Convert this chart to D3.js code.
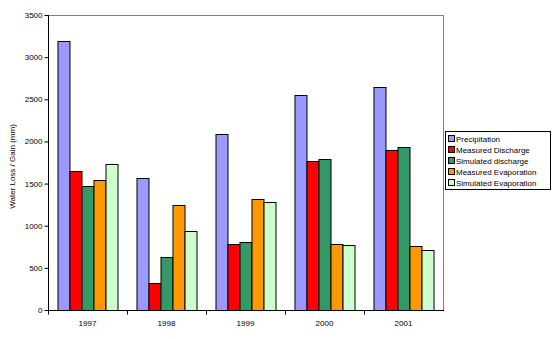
<!DOCTYPE html>
<html>
<head>
<meta charset="utf-8">
<script src="https://cdn.jsdelivr.net/npm/d3@7"></script>
<style>
html,body{margin:0;padding:0;background:#fff;}
svg{display:block;}
text{font-family:Arial,"Liberation Sans",sans-serif;fill:#000;}
</style>
</head>
<body>
<svg id="chart" width="553" height="339"></svg>
<script>
const years = ["1997","1998","1999","2000","2001"];
const seriesNames = ["Precipitation","Measured Discharge","Simulated discharge","Measured Evaporation","Simulated Evaporation"];
const seriesColors = ["#9999FF","#FF0000","#339966","#FF9900","#CCFFCC"];
const precipitation = [3190,1562,2084,2547,2642];
const measuredDischarge = [1645,317,779,1768,1894];
const simulatedDischarge = [1467,625,803,1788,1930];
const measuredEvaporation = [1538,1242,1313,779,756];
const simulatedEvaporation = [1728,934,1278,768,708];
const yTicks = [0,500,1000,1500,2000,2500,3000,3500];
const yLabel = "Water Loss / Gain (mm)";

const seriesValues = [precipitation,measuredDischarge,simulatedDischarge,measuredEvaporation,simulatedEvaporation];

const svg = d3.select("#chart");
const pL = 48, pR = 443, pT = 15, pB = 310;

const x0 = d3.scaleBand().domain(years).range([pL,pR]).padding(0);
const x1 = d3.scaleBand().domain(seriesNames).range([0,x0.bandwidth()]).paddingInner(0).paddingOuter(0.79);
const y = d3.scaleLinear().domain([0,3500]).range([pB,pT]);

// plot border (gray top/right)
svg.append("path")
  .attr("d",`M${pL},${pT+0.5}H${pR+0.5}V${pB}`)
  .attr("fill","none").attr("stroke","#808080").attr("stroke-width",1);

// bars
const groups = svg.append("g").selectAll("g").data(years).join("g")
  .attr("transform",d=>`translate(${x0(d)},0)`);
groups.selectAll("rect")
  .data((yr,i)=>seriesNames.map((s,j)=>({s,j,v:seriesValues[j][i]})))
  .join("rect")
  .attr("x",d=>x1(d.s)+0.5)
  .attr("y",d=>Math.round(y(d.v))+0.5)
  .attr("width",x1.bandwidth())
  .attr("height",d=>pB-Math.round(y(d.v)))
  .attr("fill",d=>seriesColors[d.j])
  .attr("stroke","#000").attr("stroke-width",1);

// y axis
const yAxis = d3.axisLeft(y).tickValues(yTicks).tickSize(4).tickPadding(2).tickFormat(d3.format("d"));
const gy = svg.append("g").attr("transform",`translate(${pL+0.5},0)`).call(yAxis);
gy.select(".domain").attr("d",`M0,${pT}V${pB+4}`).attr("stroke","#000");
gy.selectAll(".tick line").attr("stroke","#000");
gy.selectAll("text").attr("font-size","8px").attr("x",-6);

// x axis
const gx = svg.append("g").attr("transform",`translate(0,${pB+0.5})`);
gx.append("line").attr("x1",pL).attr("x2",pR+1).attr("y1",0).attr("y2",0).attr("stroke","#000");
gx.selectAll(".xt").data(years).join("line").attr("class","xt")
  .attr("x1",d=>Math.round(x0(d))+0.5).attr("x2",d=>Math.round(x0(d))+0.5)
  .attr("y1",0).attr("y2",4).attr("stroke","#000");
gx.selectAll(".xl").data(years).join("text").attr("class","xl")
  .attr("x",d=>x0(d)+x0.bandwidth()/2).attr("y",15)
  .attr("text-anchor","middle").attr("font-size","8px").text(d=>d);

// y label
svg.append("text").attr("transform",`translate(15,${(pT+pB)/2+4}) rotate(-90)`)
  .attr("text-anchor","middle").attr("font-size","8px").text(yLabel);

// legend
const lg = svg.append("g");
lg.append("rect").attr("x",445.5).attr("y",131.5).attr("width",105).attr("height",58)
  .attr("fill","#fff").attr("stroke","#000");
const items = lg.selectAll("g").data(seriesNames).join("g")
  .attr("transform",(d,i)=>`translate(448,${139+i*11})`);
items.append("rect").attr("x",0.5).attr("y",-3.5).attr("width",6).attr("height",6)
  .attr("fill",(d,i)=>seriesColors[i]).attr("stroke","#000");
items.append("text").attr("x",8).attr("y",3).attr("font-size","8px").text(d=>d);
</script>
</body>
</html>
